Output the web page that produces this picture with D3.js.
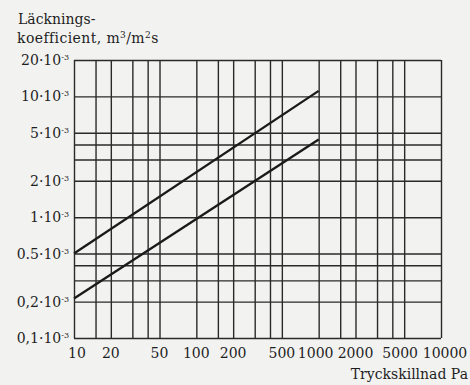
<!DOCTYPE html>
<html lang="sv">
<head>
<meta charset="UTF-8">
<title>Läckningskoefficient</title>
<script src="https://d3js.org/d3.v7.min.js"></script>
<style>
  body { margin: 0; background: #f2f2f1; }
  svg { display: block; font-family: "DejaVu Serif", serif; }
  .grid line { stroke: #2a2a2a; stroke-width: 1.4px; }
  .grid path { display: none; }
  .lbl { font-size: 14px; fill: #1e1e1e; }
</style>
</head>
<body>
<svg width="470" height="385"></svg>
<script>
// grid lines of the printed paper
const xGrid = [10, 15, 20, 30, 40, 50, 100, 150, 200, 300, 400, 500, 1000, 1500, 2000, 3000, 4000, 5000, 10000];
const yGrid = [0.1e-3, 0.2e-3, 0.3e-3, 0.4e-3, 0.5e-3, 1e-3, 2e-3, 3e-3, 4e-3, 5e-3, 10e-3, 20e-3];

// tick labels
const xTicks = [10, 20, 50, 100, 200, 500, 1000, 2000, 5000, 10000];
const yTicks = [20e-3, 10e-3, 5e-3, 2e-3, 1e-3, 0.5e-3, 0.2e-3, 0.1e-3];
const yTickText = ["20·10", "10·10", "5·10", "2·10", "1·10", "0.5·10", "0,2·10", "0,1·10"];

// the two straight lines (pressure difference Pa, leakage coefficient m3/m2s)
const upperLine = [[10, 0.5e-3], [1000, 11.1e-3]];
const lowerLine = [[10, 0.212e-3], [1000, 4.4e-3]];

const svg = d3.select("svg");
const pLeft = 74, pRight = 441, pTop = 60, pBottom = 338;

const x = d3.scaleLog().domain([10, 10000]).range([pLeft, pRight]);
const y = d3.scaleLog().domain([0.1e-3, 20e-3]).range([pBottom, pTop]);

// vertical grid
svg.append("g")
    .attr("class", "grid")
    .attr("transform", `translate(0,${pBottom})`)
    .call(d3.axisBottom(x).tickValues(xGrid).tickSize(-(pBottom - pTop)).tickFormat(""));

// horizontal grid
svg.append("g")
    .attr("class", "grid")
    .attr("transform", `translate(${pLeft},0)`)
    .call(d3.axisLeft(y).tickValues(yGrid).tickSize(-(pRight - pLeft)).tickFormat(""));

// x labels (printed labels are pushed apart a little where they crowd)
const nudge = { 10: 3, 1000: -3, 5000: -4, 10000: 4 };
svg.append("g")
    .selectAll("text")
    .data(xTicks)
    .join("text")
    .attr("class", "lbl")
    .attr("x", d => x(d) + (nudge[d] || 0))
    .attr("y", pBottom + 20)
    .attr("text-anchor", "middle")
    .text(d => d);

// y labels with superscript -3
const yl = svg.append("g")
    .selectAll("text")
    .data(yTicks)
    .join("text")
    .attr("class", "lbl")
    .attr("x", pLeft - 5)
    .attr("y", d => y(d) + 5)
    .attr("text-anchor", "end");
yl.append("tspan").text((d, i) => yTickText[i]);
yl.append("tspan").attr("dy", -5).style("font-size", "8px").text("-3");

// data lines
const line = d3.line().x(d => x(d[0])).y(d => y(d[1]));
[upperLine, lowerLine].forEach(pts => {
    svg.append("path")
        .attr("d", line(pts))
        .attr("fill", "none")
        .attr("stroke", "#1a1a1a")
        .attr("stroke-width", 2.3);
});

// axis titles
const yTitle = svg.append("text").attr("class", "lbl").attr("x", 18).attr("y", 24);
yTitle.append("tspan").text("Läcknings-");
const yTitle2 = svg.append("text").attr("class", "lbl").attr("x", 17).attr("y", 43)
    .style("letter-spacing", "0.4px");
yTitle2.append("tspan").text("koefficient, m");
yTitle2.append("tspan").attr("dy", -5).style("font-size", "9px").text("3");
yTitle2.append("tspan").attr("dy", 5).text("/m");
yTitle2.append("tspan").attr("dy", -5).style("font-size", "9px").text("2");
yTitle2.append("tspan").attr("dy", 5).text("s");

svg.append("text")
    .attr("class", "lbl")
    .attr("x", 468)
    .attr("y", 379)
    .attr("text-anchor", "end")
    .text("Tryckskillnad Pa");
</script>
</body>
</html>
